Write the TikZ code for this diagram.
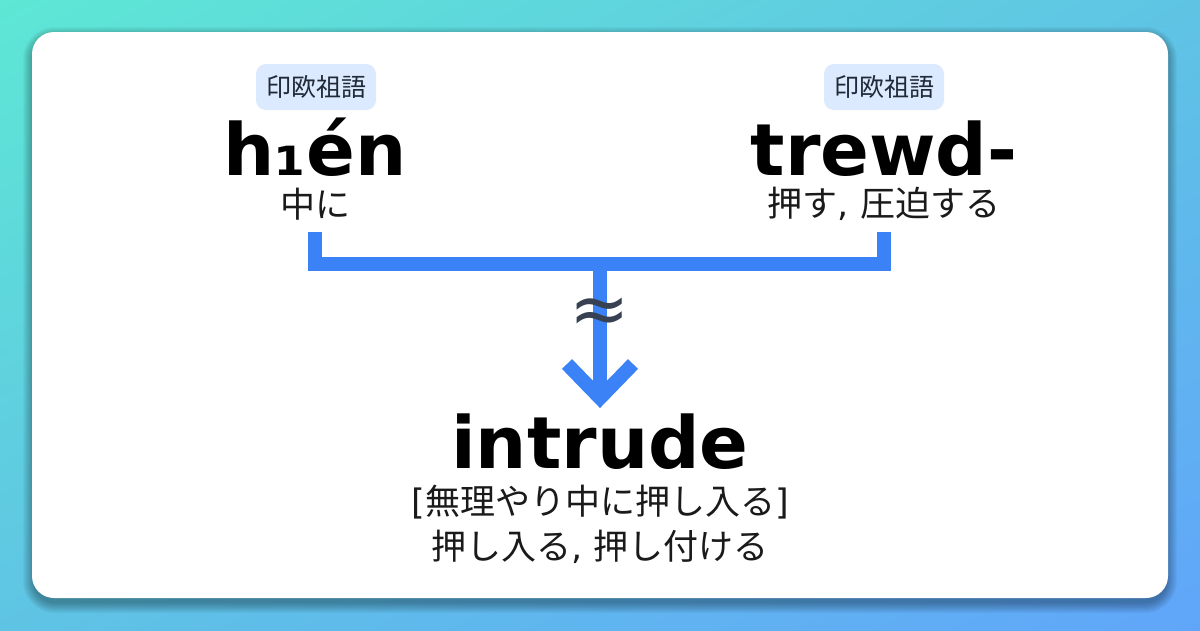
\documentclass[tikz,border=0pt]{standalone}
\usepackage{fontspec}
\setmainfont{DejaVu Sans}
\newfontfamily\cjk{Noto Sans CJK JP}
\newfontfamily\latf{DejaVu Sans}
\usetikzlibrary{shadings}
\definecolor{bgA}{HTML}{5EE7D5}
\definecolor{bgM}{HTML}{5FC4E4}
\definecolor{bgB}{HTML}{60A5FA}
\definecolor{flow}{HTML}{3B82F6}
\definecolor{badgebg}{HTML}{DBEAFE}
\definecolor{approxc}{HTML}{374151}
\definecolor{badgetext}{HTML}{1F2937}
\definecolor{glosstext}{HTML}{1A1A1A}
\tikzset{
  badge/.style={fill=badgebg, rounded corners=10pt, minimum width=120pt, minimum height=46pt,
    inner sep=0pt, text=badgetext, font=\cjk\fontsize{25}{30}\selectfont},
  word/.style={anchor=base, inner sep=0pt, text depth=0pt, text=black, font=\bfseries\fontsize{72}{80}\selectfont},
  gloss/.style={anchor=base, inner sep=0pt, text height=0.8em, text depth=0.1em, text=glosstext, font=\cjk\fontsize{35}{40}\selectfont},
  flowline/.style={draw=flow, line width=14pt, line join=miter, line cap=butt},
}
\begin{document}
\begin{tikzpicture}[x=1pt,y=-1pt]
\useasboundingbox (0,0) rectangle (1200,630);
\shade[upper left=bgA, upper right=bgM, lower left=bgM, lower right=bgB] (0,0) rectangle (1200,630);
% card shadow
\foreach \i in {0,...,10}{
  \fill[black, opacity=0.03, rounded corners={22pt+\i pt}] ({32-\i+1},{32-\i+5}) rectangle ({1168+\i-1},{598+\i+5});
}
\fill[white, rounded corners=22pt] (32,32) rectangle (1168,598);
% badges
\node[badge] (b1) at (316,87) {印欧祖語};
\node[badge] (b2) at (884,87) {印欧祖語};
% words
\node[word] (w1) at (315,175) {h₁én};
\node[word] (w2) at (884,175) {trewd-};
\node[gloss] (g1) at (315,217) {中に};
\node[gloss] (g2) at (884,216) {押す{\latf ,\ }圧迫する};
% connectors
\coordinate (l1) at (315,232);
\coordinate (l2) at (315,264);
\coordinate (r1) at (884,232);
\coordinate (r2) at (884,264);
\coordinate (m) at (600,264);
\coordinate (tip) at (600,398);
\coordinate (a1) at (567,364);
\coordinate (a2) at (633,364);
\draw[flowline] (l1) -- (l2) -- (r2) -- (r1);
\draw[flowline] (m) -- (tip);
\draw[flowline] (a1) -- (tip) -- (a2);
\node[text=approxc, inner sep=0pt, font=\fontsize{72}{76}\selectfont] (ap) at (600,316) {≈};
% result
\node[word] (w3) at (600,468) {intrude};
\node[gloss] (g3) at (600,514) {{\latf [}無理やり中に押し入る{\latf ]}};
\node[gloss] (g4) at (600,559) {押し入る{\latf ,\ }押し付ける};
\end{tikzpicture}
\end{document}
